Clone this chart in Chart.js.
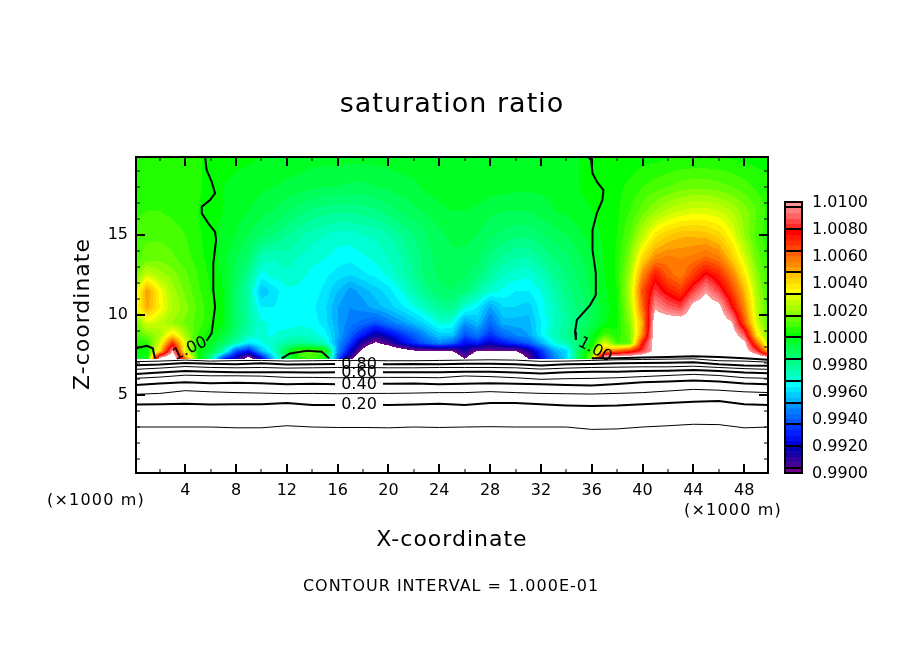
<!DOCTYPE html>
<html>
<head>
<meta charset="utf-8">
<title>saturation ratio</title>
<script src="https://cdn.jsdelivr.net/npm/chart.js@4"></script>
<style>
  html, body { margin: 0; padding: 0; background: #ffffff; }
  canvas { display: block; }
</style>
</head>
<body>
<canvas id="chart" width="904" height="654"></canvas>
<script>
// Saturation ratio, in units of 1e-4 away from 1.0000.
// One value per km, x = 0..50. 110 and 120 mean above the colour range, -110 and -120 below it.
const fieldX = Array.from({ length: 51 }, (_, i) => i);
const zLevels = [20, 18, 16.5, 15, 13.5, 12.5, 11.5, 10.5, 9.5, 8.75, 8.25, 7.75, 7.25];

const satZ20 = [6,6,6,6,6,5,2,2,1,1, 0,0,-1,-1,-2,-2,-2,-2,-2,-2, -2,-1,-1,0,0,0,0,0,-1,-1, -1,-1,-1,-1,0,0,0,1,1,1, 2,2,3,3,3,3,3,3,2,2,2];
const satZ18 = [7,7,7,7,6,5,2,0,-1,-2, -3,-4,-5,-6,-7,-8,-8,-9,-9,-8, -7,-6,-5,-3,-2,-1,-1,-1,-2,-2, -3,-3,-3,-3,-1,0,1,2,3,5, 8,10,12,14,15,15,14,12,10,7,5];
const satZ165 = [7,8,8,7,6,4,1,0,-2,-4, -6,-8,-11,-14,-17,-18,-19,-19,-18,-17, -14,-11,-9,-7,-5,-4,-4,-5,-7,-8, -8,-8,-6,-4,-3,-1,0,1,3,8, 14,20,25,28,30,30,28,24,18,12,6];
const satZ15 = [10,11,11,10,8,5,1,-1,-4,-8, -12,-16,-20,-23,-26,-28,-30,-30,-28,-27, -24,-20,-16,-12,-9,-7,-7,-8,-11,-13, -15,-15,-13,-10,-8,-5,-2,1,4,12, 25,38,44,47,47,46,42,33,20,10,5];
const satZ135 = [10,14,15,13,10,6,2,-2,-8,-14, -26,-28,-26,-29,-31,-32,-34,-35,-33,-31, -28,-24,-19,-14,-10,-9,-9,-11,-17,-21, -24,-25,-20,-16,-13,-9,-5,0,5,18, 42,55,58,56,58,62,58,45,30,14,6];
const satZ125 = [12,28,22,18,13,8,3,-1,-10,-20, -34,-30,-29,-31,-33,-35,-38,-40,-37,-35, -31,-26,-20,-14,-11,-10,-11,-15,-22,-28, -30,-31,-27,-20,-16,-11,-6,0,5,22, 55,75,62,57,68,80,72,58,38,18,8];
const satZ115 = [26,52,34,22,15,9,4,0,-12,-24, -44,-38,-33,-33,-34,-37,-44,-50,-46,-42, -38,-32,-25,-18,-13,-12,-15,-22,-30,-33, -36,-36,-32,-24,-18,-13,-7,-1,4,25, 65,85,75,68,85,98,85,68,48,22,8];
const satZ105 = [30,50,36,24,18,11,5,1,-12,-24, -36,-36,-33,-33,-35,-39,-48,-52,-50,-46, -42,-37,-32,-26,-20,-18,-30,-36,-48,-40, -40,-42,-34,-28,-20,-15,-9,-2,3,22, 60,98,90,85,105,110,105,80,55,25,8];
const satZ95 = [12,30,26,20,15,10,5,1,-12,-22, -31,-33,-34,-33,-34,-38,-48,-54,-58,-62, -55,-50,-44,-38,-30,-32,-50,-44,-58,-46, -46,-46,-36,-28,-22,-16,-8,-1,3,18, 50,110,110,110,110,110,110,102,65,28,10];
const satZ875 = [8,16,22,40,22,8,1,-5,-16,-26, -32,-32,-30,-28,-30,-34,-46,-60,-72,-85, -78,-68,-60,-50,-42,-42,-62,-55,-68,-58, -52,-48,-36,-26,-20,-12,-3,10,5,15, 55,110,110,110,110,110,110,110,90,38,12];
const satZ825 = [5,6,30,70,30,5,-2,-10,-24,-38, -32,-28,-22,-20,-22,-28,-50,-66,-90,-102, -92,-78,-68,-60,-52,-58,-75,-70,-80,-72, -66,-60,-46,-32,-24,-15,0,30,8,12, 75,110,110,110,110,110,110,110,105,60,18];
const satZ775 = [0,2,40,100,30,3,-5,-24,-62,-72, -44,-28,-5,12,14,8,-50,-78,-105,-120, -118,-110,-102,-100,-100,-100,-85,-100,-100,-100, -100,-88,-68,-48,-40,-10,10,50,60,70, 85,105,110,110,110,110,110,110,110,85,40];
const satZ725 = [0,-2,110,120,60,5,-20,-70,-85,-110, -80,-40,-10,6,8,3,-60,-95,-120,-120, -120,-120,-120,-120,-120,-120,-100,-120,-120,-120, -120,-100,-75,-55,-40,-10,20,120,120,120, 120,120,120,120,120,120,120,120,120,120,120];
const satRows = [satZ20, satZ18, satZ165, satZ15, satZ135, satZ125, satZ115, satZ105, satZ95, satZ875, satZ825, satZ775, satZ725];

// colour bands, 0.0004 wide, from 0.9900 up to 1.0100
const bandColors = [
  [110,0,140],
  [70,0,150],[50,0,155],[25,0,165],[0,0,175],
  [0,0,220],[0,15,240],[0,30,255],[0,55,255],
  [0,85,255],[0,105,255],[0,125,255],[0,150,255],
  [0,180,255],[0,205,255],[0,230,255],[0,255,255],
  [0,255,210],[0,255,185],[0,255,160],[0,255,135],
  [0,255,110],[0,255,90],[0,255,65],[0,255,35],
  [0,255,0],[35,255,0],[70,255,0],[100,255,0],
  [135,255,0],[165,255,0],[190,255,0],[220,255,0],
  [255,255,0],[255,235,0],[255,215,0],[255,195,0],
  [255,165,0],[255,140,0],[255,120,0],[255,95,0],
  [255,70,0],[255,45,0],[255,25,0],[255,0,0],
  [255,40,40],[255,70,70],[255,100,100],[255,125,125],
  [255,150,150]
];
const legendLabels = ['1.0100','1.0080','1.0060','1.0040','1.0020','1.0000','0.9980','0.9960','0.9940','0.9920','0.9900'];
const legendBreaks = [1.0096,1.008,1.0064,1.0048,1.0032,1.0016,1.0,0.9984,0.9968,0.9952,0.9936,0.992,0.9904];

// contour lines under the coloured part, x every 2 km
const lineX = [0,2,4,6,8,10,12,14,16,18,20,22,24,26,28,30,32,34,36,38,40,42,44,46,48,50];
const level10 = [3.0,3.0,3.0,3.0,2.95,2.95,3.08,3.0,2.97,2.97,2.95,3.0,2.97,3.0,3.02,3.0,3.0,3.0,2.85,2.88,3.0,3.08,3.17,3.15,2.95,3.0];
const level20 = [4.4,4.42,4.46,4.4,4.42,4.42,4.5,4.38,4.38,4.4,4.38,4.4,4.45,4.38,4.5,4.5,4.42,4.35,4.31,4.34,4.42,4.5,4.58,4.62,4.42,4.38];
const level30 = [5.04,5.1,5.27,5.2,5.15,5.12,5.08,5.1,5.08,5.1,5.1,5.12,5.15,5.15,5.21,5.15,5.1,5.08,5.06,5.1,5.15,5.25,5.35,5.3,5.2,5.15];
const level40 = [5.62,5.72,5.79,5.74,5.76,5.74,5.67,5.7,5.67,5.7,5.7,5.72,5.67,5.7,5.73,5.7,5.67,5.62,5.6,5.68,5.79,5.85,5.9,5.85,5.72,5.67];
const level50 = [6.04,6.12,6.24,6.2,6.2,6.18,6.1,6.1,6.08,6.1,6.1,6.1,6.08,6.19,6.15,6.08,5.98,6.02,6.04,6.08,6.15,6.22,6.29,6.22,6.08,6.04];
const level60 = [6.3,6.4,6.5,6.45,6.42,6.42,6.42,6.4,6.42,6.42,6.42,6.42,6.42,6.45,6.46,6.4,6.35,6.42,6.46,6.46,6.5,6.52,6.56,6.5,6.4,6.35];
const level70 = [6.6,6.68,6.78,6.72,6.7,6.72,6.68,6.7,6.72,6.72,6.7,6.7,6.72,6.72,6.72,6.7,6.62,6.68,6.72,6.74,6.76,6.76,6.8,6.72,6.65,6.6];
const level80 = [6.85,6.9,7.0,6.95,6.92,6.98,6.9,6.92,6.94,6.94,6.92,6.94,6.92,6.95,6.96,6.92,6.85,6.92,6.94,6.98,7.0,7.02,7.04,6.92,6.85,6.82];
const level90 = [7.08,7.12,7.18,7.12,7.15,7.16,7.12,7.14,7.16,7.16,7.14,7.14,7.16,7.18,7.2,7.18,7.1,7.12,7.16,7.2,7.22,7.24,7.26,7.14,7.12,7.05];
const thinLevels = [level10, level30, level50, level70, level90];
const thickLevels = [level20, level40, level60, level80];

// the 1.00 contours, as [x, z]
const surfaceLine = [[36,7.3],[38,7.3],[40,7.34],[42,7.38],[44,7.42],[46,7.38],[48,7.3],[49.875,7.2]];
const leftLine = [[5.56,19.875],[5.69,19.06],[6.08,18.33],[6.35,17.6],[5.95,17.19],[5.3,16.77],[5.3,16.36],[5.82,15.73],[6.35,15.2],[6.43,14.69],[6.21,13.23],[6.21,11.56],[6.35,10.52],[6.08,8.86],[5.69,8.39]];
const rightLine = [[35.74,19.875],[35.95,19.69],[36.06,18.86],[36.4,18.33],[36.92,17.81],[36.84,17.19],[36.4,16.36],[36.06,15.31],[36.06,14.06],[36.32,12.6],[36.32,11.25],[35.87,10.62],[34.83,9.69],[34.69,8.96],[34.75,8.44]];
const cornerLine = [[0.125,7.92],[0.97,8.08],[1.44,7.92],[1.62,7.29]];
const islandLine = [[11.6,7.29],[12.25,7.6],[13.56,7.77],[14.75,7.71],[15.32,7.29]];

const xTickValues = [4,8,12,16,20,24,28,32,36,40,44,48];
const xMinorValues = [2,6,10,14,18,22,26,30,34,38,42,46];
const yTickValues = [5,10,15];
const yMinorValues = [1,2,3,4,6,7,8,9,11,12,13,14,16,17,18,19];

const lineLabels = [['0.80', 364.5, level80], ['0.60', 372.5, level60], ['0.40', 385, level40], ['0.20', 405, level20]];

const FONT = '"DejaVu Sans"';

function satAt(x, z) {
  const xi = Math.max(0, Math.min(fieldX.length - 2, Math.floor(x)));
  const tx = x - fieldX[xi];
  let zi = 0;
  while (zi < zLevels.length - 2 && z < zLevels[zi + 1]) zi++;
  const tz = (zLevels[zi] - z) / (zLevels[zi] - zLevels[zi + 1]);
  const a = satRows[zi][xi] * (1 - tx) + satRows[zi][xi + 1] * tx;
  const b = satRows[zi + 1][xi] * (1 - tx) + satRows[zi + 1][xi + 1] * tx;
  return a * (1 - tz) + b * tz;
}

function putText(ctx, text, x, y, size, spacing, align, angle) {
  ctx.save();
  ctx.translate(x, y);
  if (angle) ctx.rotate(angle);
  ctx.font = size + 'px ' + FONT;
  ctx.letterSpacing = (spacing || 0) + 'px';
  ctx.fillStyle = '#000000';
  ctx.textAlign = align || 'center';
  ctx.textBaseline = 'middle';
  ctx.fillText(text, 0, 0);
  ctx.restore();
}

const fieldPlugin = {
  id: 'field',
  beforeDatasetsDraw(chart) {
    const area = chart.chartArea;
    const sx = chart.scales.x, sy = chart.scales.y;
    const w = Math.round(area.right - area.left), h = Math.round(area.bottom - area.top);
    const off = document.createElement('canvas');
    off.width = w; off.height = h;
    const octx = off.getContext('2d');
    const img = octx.createImageData(w, h);
    for (let j = 0; j < h; j++) {
      const z = sy.getValueForPixel(area.top + j + 0.5);
      if (z < zLevels[zLevels.length - 1]) continue;
      for (let i = 0; i < w; i++) {
        const v = satAt(sx.getValueForPixel(area.left + i + 0.5), z);
        if (v < -100 || v >= 100) continue;
        const c = bandColors[Math.floor((v + 100) / 4)];
        const p = (j * w + i) * 4;
        img.data[p] = c[0]; img.data[p + 1] = c[1]; img.data[p + 2] = c[2]; img.data[p + 3] = 255;
      }
    }
    octx.putImageData(img, 0, 0);
    chart.ctx.drawImage(off, area.left, area.top);
  },
  afterDatasetsDraw(chart) {
    const ctx = chart.ctx, area = chart.chartArea;
    const sx = chart.scales.x, sy = chart.scales.y;

    // labels sit in gaps cut out of the thick lines
    ctx.fillStyle = '#ffffff';
    lineLabels.forEach(([, , level]) => {
      const py = sy.getPixelForValue(level[8]);
      ctx.fillRect(335, py - 2, 48, 4);
    });
    lineLabels.forEach(([text, py]) => putText(ctx, text, 359, py, 16, 0));
    putText(ctx, '1.00', 190, 349, 16, 0, 'center', -25 * Math.PI / 180);
    putText(ctx, '1.00', 595, 350, 16, 0, 'center', 28 * Math.PI / 180);

    // ticks point inwards on all four sides
    ctx.strokeStyle = '#000000';
    const tick = (x1, y1, x2, y2, width) => {
      ctx.lineWidth = width;
      ctx.beginPath(); ctx.moveTo(x1, y1); ctx.lineTo(x2, y2); ctx.stroke();
    };
    xTickValues.forEach(v => {
      const p = Math.round(sx.getPixelForValue(v));
      tick(p, area.bottom, p, area.bottom - 9, 2);
      tick(p, area.top, p, area.top + 9, 2);
    });
    xMinorValues.forEach(v => {
      const p = Math.round(sx.getPixelForValue(v));
      tick(p, area.bottom, p, area.bottom - 4, 1);
      tick(p, area.top, p, area.top + 4, 1);
    });
    yTickValues.forEach(v => {
      const p = Math.round(sy.getPixelForValue(v));
      tick(area.left, p, area.left + 9, p, 2);
      tick(area.right, p, area.right - 9, p, 2);
    });
    yMinorValues.forEach(v => {
      const p = Math.round(sy.getPixelForValue(v));
      tick(area.left, p, area.left + 4, p, 1);
      tick(area.right, p, area.right - 4, p, 1);
    });
    ctx.lineWidth = 2;
    ctx.strokeRect(area.left, area.top, area.right - area.left, area.bottom - area.top);

    // colour bar
    const barLeft = 785, barRight = 802, barTop = 202, barBottom = 473;
    const barY = v => barBottom - (v - 0.99) / 0.02 * (barBottom - barTop);
    bandColors.forEach((c, i) => {
      const y1 = barY(0.99 + i * 0.0004), y2 = barY(0.99 + (i + 1) * 0.0004);
      ctx.fillStyle = 'rgb(' + c.join(',') + ')';
      ctx.fillRect(barLeft, y2, barRight - barLeft, y1 - y2 + 0.5);
    });
    ctx.fillStyle = '#000000';
    legendBreaks.forEach(v => ctx.fillRect(barLeft, Math.round(barY(v)) - 1, barRight - barLeft, 2));
    ctx.strokeRect(barLeft, barTop, barRight - barLeft, barBottom - barTop);
    legendLabels.forEach((text, i) => putText(ctx, text, 812, barTop + 1 + i * 27.1, 16, 0, 'left'));

    // titles
    putText(ctx, 'saturation ratio', 452, 105, 27, 1);
    putText(ctx, 'X-coordinate', 452, 540, 22, 1);
    putText(ctx, 'Z-coordinate', 83, 314, 22, 1, 'center', -Math.PI / 2);
    putText(ctx, '(×1000 m)', 96, 501, 16, 1.2);
    putText(ctx, '(×1000 m)', 733, 511, 16, 1.2);
    putText(ctx, 'CONTOUR INTERVAL = 1.000E-01', 451, 587, 16, 1);
  }
};

const toPoints = (xs, zs) => xs.map((x, i) => ({ x: x, y: zs[i] }));
const toPairs = pairs => pairs.map(p => ({ x: p[0], y: p[1] }));
const contour = (data, width) => ({
  data: data,
  showLine: true,
  borderColor: '#000000',
  borderWidth: width,
  pointRadius: 0,
  tension: 0
});

new Chart(document.getElementById('chart').getContext('2d'), {
  type: 'scatter',
  data: {
    datasets: [
      ...thinLevels.map(level => contour(toPoints(lineX, level), 1)),
      ...thickLevels.map(level => contour(toPoints(lineX, level), 2)),
      contour(toPairs(surfaceLine), 2),
      contour(toPairs(leftLine), 2),
      contour(toPairs(rightLine), 2),
      contour(toPairs(cornerLine), 2),
      contour(toPairs(islandLine), 2)
    ]
  },
  plugins: [fieldPlugin],
  options: {
    responsive: false,
    animation: false,
    devicePixelRatio: 1,
    layout: { padding: { left: 0, top: 157, right: 136, bottom: 0 } },
    plugins: { legend: { display: false }, tooltip: { enabled: false }, title: { display: false } },
    scales: {
      x: {
        type: 'linear',
        min: 0.125,
        max: 49.875,
        grid: { display: false },
        border: { display: false },
        afterFit: scale => { scale.height = 181; },
        afterBuildTicks: scale => { scale.ticks = xTickValues.map(v => ({ value: v })); },
        ticks: {
          autoSkip: false,
          maxRotation: 0,
          padding: 0,
          color: '#000000',
          font: { family: 'DejaVu Sans', size: 16 },
          callback: v => String(v)
        }
      },
      y: {
        type: 'linear',
        min: 0.125,
        max: 19.875,
        grid: { display: false },
        border: { display: false },
        afterFit: scale => { scale.width = 136; },
        afterBuildTicks: scale => { scale.ticks = yTickValues.map(v => ({ value: v })); },
        ticks: {
          autoSkip: false,
          padding: 0,
          color: '#000000',
          font: { family: 'DejaVu Sans', size: 16 },
          callback: v => String(v)
        }
      }
    }
  }
});
</script>
</body>
</html>
